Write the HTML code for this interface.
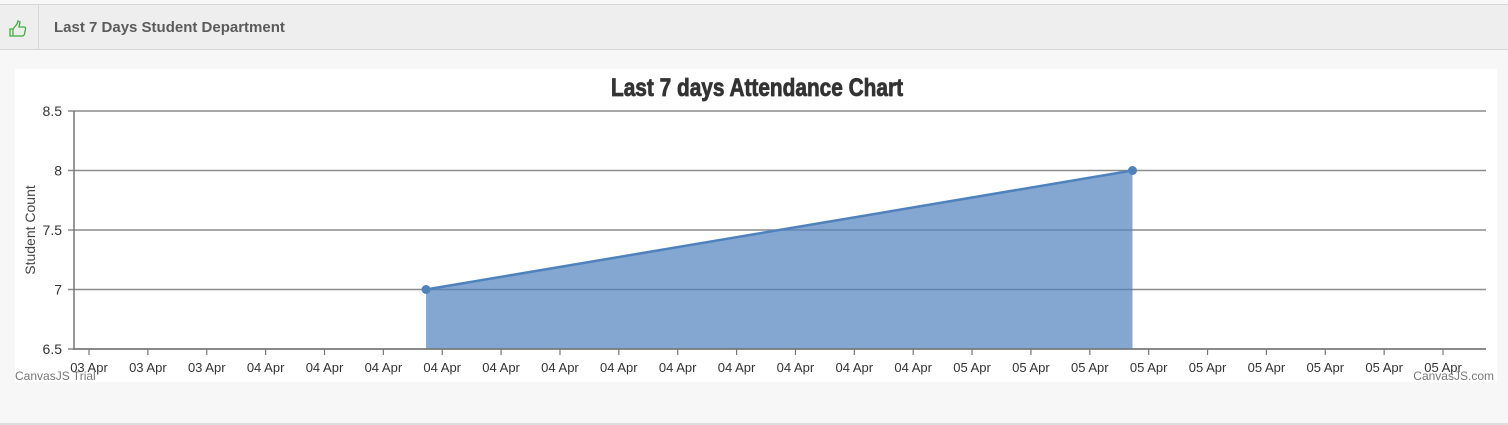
<!DOCTYPE html>
<html><head><meta charset="utf-8"><style>
body{margin:0;width:1508px;height:425px;background:#f7f7f7;font-family:"Liberation Sans","DejaVu Sans",sans-serif;overflow:hidden;position:relative}
#hdr{position:absolute;left:0;top:4px;width:1508px;height:44px;background:#eeeeee;border-top:1px solid #d6d6d6;border-bottom:1px solid #d6d6d6}
#ico{position:absolute;left:0;top:0;width:38px;height:44px;border-right:1px solid #d6d6d6}
#htitle{position:absolute;left:54px;top:14px;font-size:15px;font-weight:bold;color:#5b5b5b}
#bottom{position:absolute;left:0;top:423px;width:1508px;height:2px;background:#ddd}
svg{position:absolute;left:0;top:0}
</style></head><body>
<div id="hdr">
<div id="ico"><svg width="38" height="44"><path d="M10 24h3v7h-3z M13 24l4-5 1-3 2 1-1 5h5q2 0 1.5 2l-1 5q-.5 2-2.5 2h-9z" fill="none" stroke="#3fae3f" stroke-width="1.3"/></svg></div>
<div id="htitle">Last 7 Days Student Department</div>
</div>
<div id="bottom"></div>
<svg id="chart" width="1508" height="425">
<rect x="15" y="69" width="1482" height="313" fill="#fff"/>
<text x="757" y="96" text-anchor="middle" font-family="'Liberation Sans Narrow','Liberation Sans',sans-serif" font-weight="bold" font-size="25" fill="#333" stroke="#333" stroke-width="0.8" textLength="292" lengthAdjust="spacingAndGlyphs">Last 7 days Attendance Chart</text>
<text transform="translate(35,230) rotate(-90)" text-anchor="middle" font-size="14" fill="#444">Student Count</text>
<g id="g"></g>
<text x="15" y="380" font-size="12" fill="#777">CanvasJS Trial</text>
<text x="1494" y="380" text-anchor="end" font-size="12" fill="#777">CanvasJS.com</text>
</svg>
<script>
// hours relative to 03 Apr 18:00
const yTicks=[6.5,7,7.5,8,8.5];
const xTickHours=[0,2,4,6,8,10,12,14,16,18,20,22,24,26,28,30,32,34,36,38,40,42,44,46];
const xTickLabels=["03 Apr","03 Apr","03 Apr","04 Apr","04 Apr","04 Apr","04 Apr","04 Apr","04 Apr","04 Apr","04 Apr","04 Apr","04 Apr","04 Apr","04 Apr","05 Apr","05 Apr","05 Apr","05 Apr","05 Apr","05 Apr","05 Apr","05 Apr","05 Apr"];
const pointHours=[11.45,35.45];
const pointValues=[7,8];
const NS="http://www.w3.org/2000/svg";
const g=document.getElementById('g');
const X0=74,X1=1486,Y0=349,Y1=111,hMin=-0.51,hMax=47.46,vMin=6.5,vMax=8.5;
const xs=h=>X0+(h-hMin)/(hMax-hMin)*(X1-X0);
const ys=v=>Y0-(v-vMin)/(vMax-vMin)*(Y0-Y1);
function mk(t,a){const e=document.createElementNS(NS,t);for(const k in a)e.setAttribute(k,a[k]);g.appendChild(e);return e;}
yTicks.forEach(v=>{
 const l=mk('line',{x1:68,x2:X1,y1:ys(v),y2:ys(v),stroke:'#8c8c8c','stroke-width':1.5});
 
 
 const t=mk('text',{x:62,y:ys(v)+5,'text-anchor':'end','font-size':14,fill:'#333'});
 t.textContent=v;
 
 
});
let d='M'+xs(pointHours[0])+','+ys(vMin);
pointHours.forEach((h,i)=>{d+=' L'+xs(h)+','+ys(pointValues[i]);});
d+=' L'+xs(pointHours[pointHours.length-1])+','+ys(vMin)+' Z';
const area=mk('path',{d:d,fill:'#4f81bd','fill-opacity':0.7});


const ln=mk('polyline',{points:pointHours.map((h,i)=>xs(h)+','+ys(pointValues[i])).join(' '),fill:'none',stroke:'#4f81bd','stroke-width':2.5});


pointHours.forEach((h,i)=>{
 const c=mk('circle',{cx:xs(h),cy:ys(pointValues[i]),r:4.5,fill:'#4f81bd'});
 
 
});
const ax=mk('line',{x1:X0,x2:X0,y1:Y1,y2:Y0+1,stroke:'#777','stroke-width':1.5});


const bx=mk('line',{x1:X0,x2:X1,y1:Y0,y2:Y0,stroke:'#777','stroke-width':1.5});


xTickHours.forEach((h,i)=>{
 const tk=mk('line',{x1:xs(h),x2:xs(h),y1:Y0,y2:Y0+6,stroke:'#777','stroke-width':1.2});
 
 
 const t=mk('text',{x:xs(h),y:372,'text-anchor':'middle','font-size':13,fill:'#333'});
 t.textContent=xTickLabels[i];
 
 
});
</script>
</body></html>
